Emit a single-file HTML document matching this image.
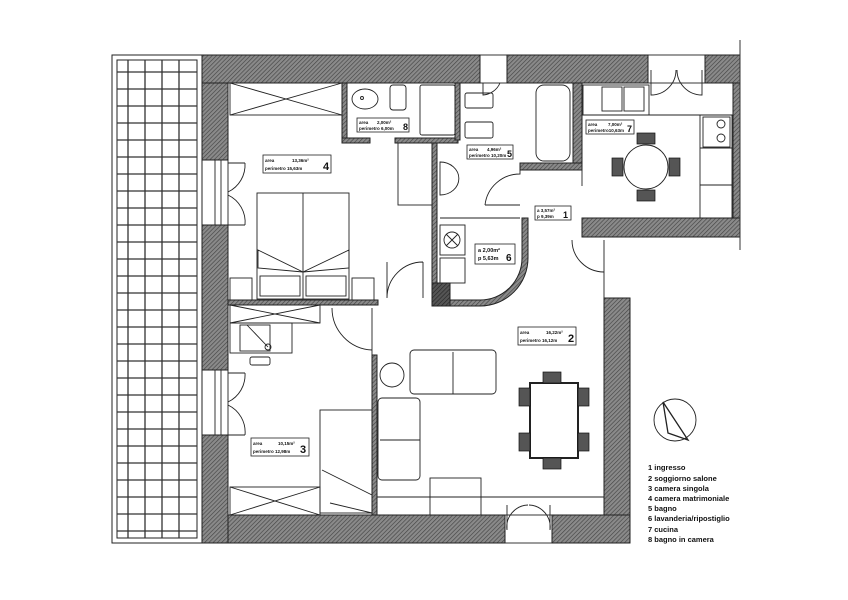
<!DOCTYPE html>
<html><head><meta charset="utf-8"><style>
html,body{margin:0;padding:0;background:#fff}
svg{display:block}
text{font-family:"Liberation Sans",sans-serif;font-weight:bold;fill:#111}
</style></head><body>
<svg width="848" height="600" viewBox="0 0 848 600" xmlns="http://www.w3.org/2000/svg">
<defs>
<pattern id="h" width="3" height="3" patternUnits="userSpaceOnUse" patternTransform="rotate(45)">
<rect width="3" height="3" fill="#8a8a8a"/><line x1="0" y1="0" x2="0" y2="3" stroke="#444" stroke-width="1.3"/>
</pattern>
<pattern id="hd" width="3" height="3" patternUnits="userSpaceOnUse" patternTransform="rotate(45)">
<rect width="3" height="3" fill="#555"/><line x1="0" y1="0" x2="0" y2="3" stroke="#222" stroke-width="1.2"/>
</pattern>
</defs>
<g fill="none" stroke="#222" stroke-width="1">
<rect x="112" y="55" width="90" height="488"/>
<rect x="117" y="60" width="80" height="478"/>
<g stroke="#333" stroke-width="1.3">
<line x1="128" y1="60" x2="128" y2="538"/><line x1="145" y1="60" x2="145" y2="538"/><line x1="162" y1="60" x2="162" y2="538"/><line x1="179" y1="60" x2="179" y2="538"/>
</g>
</g>
<g stroke="#333" stroke-width="1.3">
<line x1="117" y1="72" x2="197" y2="72"/><line x1="117" y1="89" x2="197" y2="89"/><line x1="117" y1="106" x2="197" y2="106"/><line x1="117" y1="123" x2="197" y2="123"/><line x1="117" y1="140" x2="197" y2="140"/><line x1="117" y1="157" x2="197" y2="157"/><line x1="117" y1="174" x2="197" y2="174"/><line x1="117" y1="191" x2="197" y2="191"/><line x1="117" y1="208" x2="197" y2="208"/><line x1="117" y1="225" x2="197" y2="225"/><line x1="117" y1="242" x2="197" y2="242"/><line x1="117" y1="259" x2="197" y2="259"/><line x1="117" y1="276" x2="197" y2="276"/><line x1="117" y1="293" x2="197" y2="293"/><line x1="117" y1="310" x2="197" y2="310"/><line x1="117" y1="327" x2="197" y2="327"/><line x1="117" y1="344" x2="197" y2="344"/><line x1="117" y1="361" x2="197" y2="361"/><line x1="117" y1="378" x2="197" y2="378"/><line x1="117" y1="395" x2="197" y2="395"/><line x1="117" y1="412" x2="197" y2="412"/><line x1="117" y1="429" x2="197" y2="429"/><line x1="117" y1="446" x2="197" y2="446"/><line x1="117" y1="463" x2="197" y2="463"/><line x1="117" y1="480" x2="197" y2="480"/><line x1="117" y1="497" x2="197" y2="497"/><line x1="117" y1="514" x2="197" y2="514"/><line x1="117" y1="531" x2="197" y2="531"/>
</g>

<g fill="url(#h)" stroke="#222" stroke-width="1">
<rect x="202" y="55" width="278" height="28"/>
<rect x="507" y="55" width="141" height="28"/>
<rect x="705" y="55" width="35" height="28"/>
<rect x="733" y="83" width="7" height="135"/>
<rect x="582" y="218" width="158" height="19"/>
<rect x="202" y="83" width="26" height="77"/>
<rect x="202" y="225" width="26" height="145"/>
<rect x="202" y="435" width="26" height="108"/>
<rect x="228" y="515" width="277" height="28"/>
<rect x="552" y="515" width="78" height="28"/>
<rect x="604" y="298" width="26" height="217"/>
<rect x="342" y="83" width="5" height="57"/>
<rect x="342" y="138" width="28" height="5"/>
<rect x="395" y="138" width="63" height="5"/>
<rect x="455" y="83" width="5" height="57"/>
<rect x="432" y="143" width="5" height="140"/>
<rect x="573" y="83" width="9" height="87"/>
<rect x="520" y="163" width="62" height="7"/>
<rect x="228" y="300" width="150" height="5"/>
<rect x="372" y="355" width="5" height="160"/>
<path d="M450,300 L480,300 A42,42 0 0 0 522,258 L522,218 L528,218 L528,258 A48,48 0 0 1 480,306 L450,306 Z"/>
</g>
<rect x="432" y="283" width="18" height="23" fill="url(#hd)" stroke="#222"/>
<line x1="740" y1="40" x2="740" y2="250" stroke="#333"/>

<g fill="none" stroke="#222" stroke-width="0.9">
<rect x="215" y="160" width="13" height="65"/><line x1="221" y1="160" x2="221" y2="225"/>
<path d="M228,163 L245,163 M245,163 A30,30 0 0 1 228,192 M228,225 L245,225 M245,225 A30,30 0 0 0 228,195"/>
<rect x="215" y="370" width="13" height="65"/><line x1="221" y1="370" x2="221" y2="435"/>
<path d="M228,373 L245,373 M245,373 A30,30 0 0 1 228,402 M228,435 L245,435 M245,435 A30,30 0 0 0 228,405"/>
<rect x="480" y="55" width="27" height="28"/><path d="M483,83 L483,95 A20,20 0 0 0 500,83"/>
<rect x="648" y="55" width="57" height="28"/><path d="M651,70 L651,95 A25,25 0 0 0 676,70 M702,70 L702,95 A25,25 0 0 1 677,70"/>
<rect x="505" y="515" width="47" height="28"/><path d="M507,505 L507,530 A22,22 0 0 1 528,505 M550,505 L550,530 A22,22 0 0 0 529,505"/>

<rect x="230" y="83" width="112" height="32"/><path d="M230,83 L342,115 M342,83 L230,115"/>
<rect x="257" y="193" width="92" height="106"/><line x1="303" y1="193" x2="303" y2="299"/>
<path d="M258,250 L303,272 L349,250 L349,268 L303,272 L258,268 Z"/>
<rect x="260" y="276" width="40" height="20"/><rect x="306" y="276" width="40" height="20"/>
<rect x="230" y="278" width="22" height="22"/><rect x="352" y="278" width="22" height="22"/>
<rect x="398" y="143" width="34" height="62"/>
<path d="M387,298 L387,262 M387,298 A36,36 0 0 1 423,262 M423,262 L423,298"/>
<ellipse cx="365" cy="99" rx="13" ry="10"/><circle cx="362" cy="98" r="1.5"/>
<rect x="390" y="85" width="16" height="25" rx="3"/>
<rect x="420" y="85" width="35" height="50" rx="2"/>
<rect x="465" y="93" width="28" height="15" rx="2"/>
<rect x="465" y="122" width="28" height="16" rx="2"/>
<rect x="536" y="85" width="34" height="76" rx="8"/>
<path d="M440,162 A16,14 0 0 1 440,195 L440,162 Z"/>
<path d="M485,205 A35,35 0 0 1 520,174 L520,170"/><line x1="485" y1="205" x2="520" y2="205"/>
<line x1="582" y1="170" x2="582" y2="186"/>
<rect x="440" y="225" width="25" height="30"/><circle cx="452" cy="240" r="8"/><path d="M446,234 L458,246 M458,234 L446,246"/>
<rect x="440" y="258" width="25" height="25"/>
<line x1="440" y1="218" x2="520" y2="218"/>
<rect x="583" y="85" width="66" height="30"/><rect x="602" y="87" width="20" height="24"/><rect x="624" y="87" width="20" height="24"/>
<line x1="582" y1="115" x2="733" y2="115"/>
<rect x="700" y="115" width="32" height="103"/><rect x="703" y="117" width="27" height="30"/>
<circle cx="721" cy="124" r="4"/><circle cx="721" cy="138" r="4"/>
<line x1="700" y1="148" x2="732" y2="148"/><line x1="700" y1="185" x2="732" y2="185"/>
<circle cx="646" cy="167" r="22"/>
<path d="M572,240 A32,32 0 0 0 604,272 M604,240 L604,298"/>
<rect x="230" y="305" width="90" height="18"/><path d="M230,305 L320,323 M320,305 L230,323"/>
<rect x="230" y="323" width="62" height="30"/><rect x="240" y="325" width="30" height="26"/>
<line x1="247" y1="325" x2="268" y2="347"/><circle cx="268" cy="347" r="3"/>
<rect x="250" y="357" width="20" height="8" rx="2"/>
<rect x="320" y="410" width="52" height="103"/>
<path d="M322,470 L372,495 M330,503 L372,513"/>
<rect x="230" y="487" width="90" height="28"/><path d="M230,487 L320,515 M320,487 L230,515"/>
<path d="M332,308 A42,42 0 0 0 372,350 M372,308 L372,355"/>
<circle cx="392" cy="375" r="12"/>
<rect x="410" y="350" width="86" height="44" rx="4"/><line x1="453" y1="352" x2="453" y2="394"/>
<rect x="378" y="398" width="42" height="82" rx="4"/><line x1="380" y1="440" x2="420" y2="440"/>
<rect x="530" y="383" width="48" height="75" stroke-width="2"/>
<rect x="430" y="478" width="51" height="37"/>
<line x1="377" y1="497" x2="604" y2="497"/>
<circle cx="675" cy="420" r="21"/><path d="M663,402 L688,440 L668,433 Z" stroke-width="1.3"/>
</g>
<g fill="#555" stroke="#111" stroke-width="0.7">
<rect x="637" y="133" width="18" height="11"/><rect x="637" y="190" width="18" height="11"/>
<rect x="612" y="158" width="11" height="18"/><rect x="669" y="158" width="11" height="18"/>
<rect x="543" y="372" width="18" height="11"/><rect x="543" y="458" width="18" height="11"/>
<rect x="519" y="388" width="11" height="18"/><rect x="519" y="433" width="11" height="18"/>
<rect x="578" y="388" width="11" height="18"/><rect x="578" y="433" width="11" height="18"/>
</g>
<g fill="#fff" stroke="#222" stroke-width="0.8">
<rect x="263" y="155" width="68" height="18"/><rect x="357" y="118" width="52" height="14"/>
<rect x="467" y="145" width="46" height="14"/><rect x="586" y="120" width="48" height="14"/>
<rect x="535" y="206" width="36" height="14"/><rect x="475" y="244" width="40" height="20"/>
<rect x="518" y="327" width="58" height="18"/><rect x="251" y="438" width="58" height="18"/>
</g>
<g font-size="4.5">
<text x="265" y="162">area</text><text x="292" y="162">13,36m²</text><text x="265" y="170">perimetro 15,63m</text><text x="323" y="170" font-size="11">4</text>
<text x="359" y="124">area</text><text x="377" y="124">2,00m²</text><text x="359" y="130">perimetro 6,00m</text><text x="403" y="130" font-size="9">8</text>
<text x="469" y="151">area</text><text x="487" y="151">4,96m²</text><text x="469" y="157">perimetro 10,20m</text><text x="507" y="157" font-size="9">5</text>
<text x="588" y="126">area</text><text x="608" y="126">7,00m²</text><text x="588" y="132">perimetro10,63m</text><text x="627" y="132" font-size="9">7</text>
<text x="537" y="212">a 3,57m²</text><text x="537" y="218">p 9,39m</text><text x="563" y="218" font-size="9">1</text>
<text x="478" y="252" font-size="5.5">a 2,00m²</text><text x="478" y="260" font-size="5.5">p 5,63m</text><text x="506" y="261" font-size="10">6</text>
<text x="520" y="334">area</text><text x="546" y="334">16,22m²</text><text x="520" y="342">perimetro 16,12m</text><text x="568" y="342" font-size="11">2</text>
<text x="253" y="445">area</text><text x="278" y="445">10,15m²</text><text x="253" y="453">perimetro 12,98m</text><text x="300" y="453" font-size="11">3</text>
</g>
<g font-size="7.5">
<text x="648" y="470">1  ingresso</text>
<text x="648" y="481">2  soggiorno salone</text>
<text x="648" y="491">3  camera singola</text>
<text x="648" y="501">4  camera matrimoniale</text>
<text x="648" y="511">5  bagno</text>
<text x="648" y="521">6  lavanderia/ripostiglio</text>
<text x="648" y="532">7  cucina</text>
<text x="648" y="542">8  bagno in camera</text>
</g>
</svg>
</body></html>
